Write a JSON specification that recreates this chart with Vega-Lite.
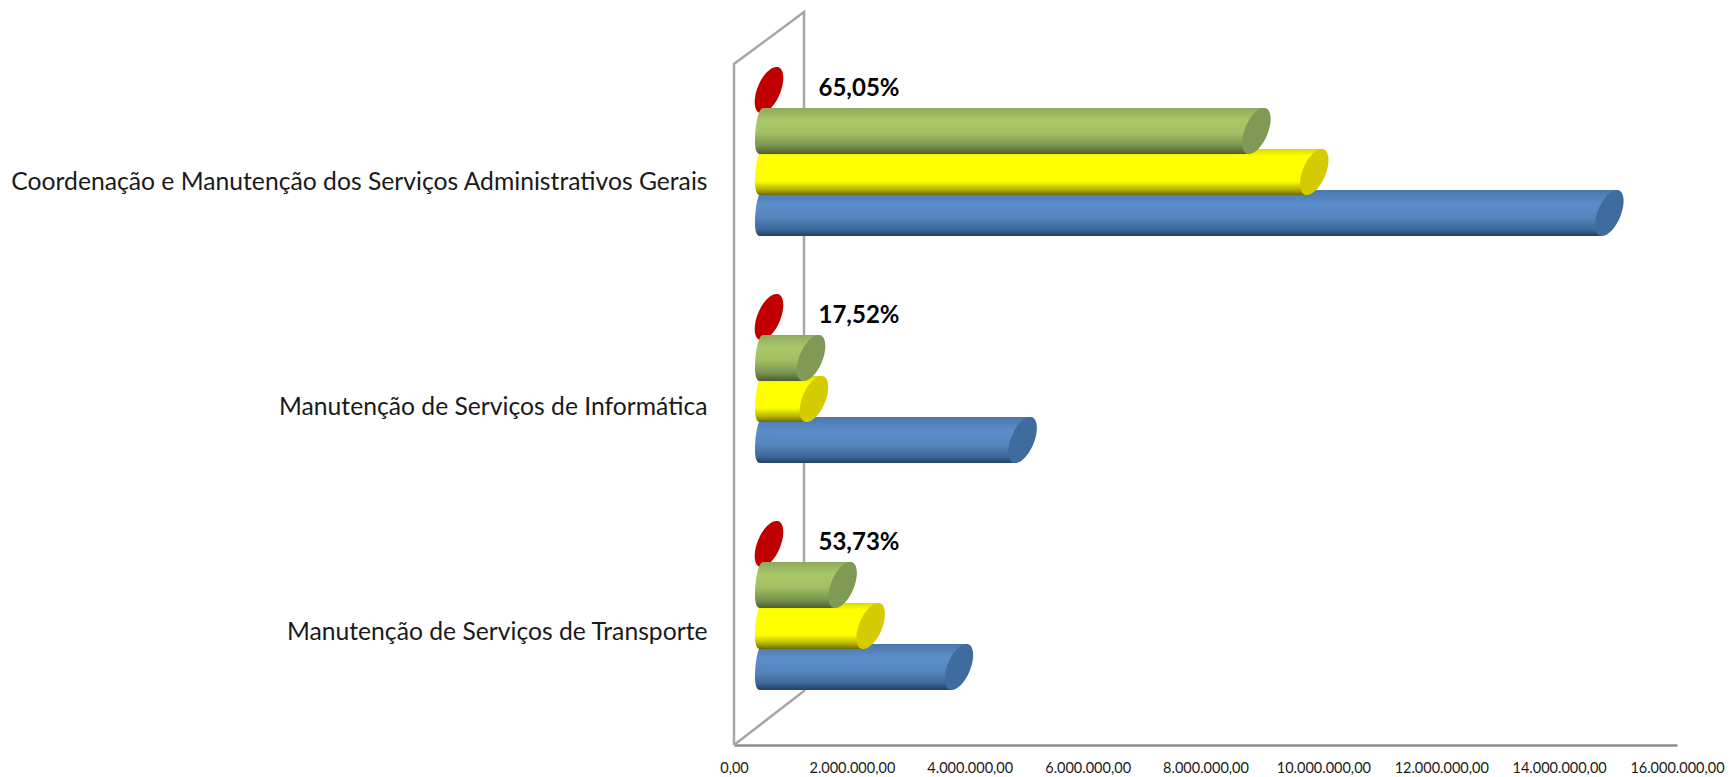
{
"$schema":"https://vega.github.io/schema/vega-lite/v6.json",
"autosize":{"type":"none"},
"padding":{"left":734,"top":68,"right":54,"bottom":32},
"width":943,"height":677,
"background":"white",
"config":{"view":{"stroke":null},"locale":{"number":{"decimal":",","thousands":".","grouping":[3],"currency":["R$ ",""]}}},
"datasets":{
"valores":[
{"cat":"Coordenação e Manutenção dos Serviços Administrativos Gerais","serie":"A","valor":14258000},
{"cat":"Coordenação e Manutenção dos Serviços Administrativos Gerais","serie":"B","valor":9251000},
{"cat":"Coordenação e Manutenção dos Serviços Administrativos Gerais","serie":"C","valor":8269000},
{"cat":"Coordenação e Manutenção dos Serviços Administrativos Gerais","serie":"D","valor":0,"pct":"65,05%"},
{"cat":"Manutenção de Serviços de Informática","serie":"A","valor":4303000},
{"cat":"Manutenção de Serviços de Informática","serie":"B","valor":763000},
{"cat":"Manutenção de Serviços de Informática","serie":"C","valor":714000},
{"cat":"Manutenção de Serviços de Informática","serie":"D","valor":0,"pct":"17,52%"},
{"cat":"Manutenção de Serviços de Transporte","serie":"A","valor":3222000},
{"cat":"Manutenção de Serviços de Transporte","serie":"B","valor":1725000},
{"cat":"Manutenção de Serviços de Transporte","serie":"C","valor":1249000},
{"cat":"Manutenção de Serviços de Transporte","serie":"D","valor":0,"pct":"53,73%"}
],
"parede":[
{"ordem":1,"vx":0,"vy":0},
{"ordem":2,"vx":0,"vy":681},
{"ordem":3,"vx":1188000,"vy":733},
{"ordem":4,"vx":1188000,"vy":54},
{"ordem":5,"vx":0,"vy":0}
]
},
"resolve":{"scale":{"y":"independent"}},
"layer":[
{"data":{"name":"parede"},
 "mark":{"type":"line","stroke":"#A6A6A6","strokeWidth":2.5,"clip":false},
 "encoding":{
  "x":{"field":"vx","type":"quantitative","title":null,"scale":{"domain":[0,16000000],"nice":false},
   "axis":{"values":[0,2000000,4000000,6000000,8000000,10000000,12000000,14000000,16000000],"format":",.2f","grid":false,"ticks":false,"domainColor":"#8C8C8C","domainWidth":2.5,"labelFont":"Lato","labelFontSize":14.5,"labelColor":"#1a1a1a","labelPadding":16,"labelOverlap":false,"labelBound":false,"labelFlush":false,"title":null}},
  "y":{"field":"vy","type":"quantitative","axis":null,"scale":{"domain":[0,677],"nice":false,"zero":false}},
  "order":{"field":"ordem","type":"quantitative"}
 }},
{"data":{"name":"valores"},
 "transform":[{"filter":"datum.serie=='D'"}],
 "mark":{"type":"tick","opacity":0},
 "encoding":{
  "y":{"field":"cat","type":"nominal","title":null,"sort":null,
   "scale":{"domain":["Coordenação e Manutenção dos Serviços Administrativos Gerais","Manutenção de Serviços de Informática","Manutenção de Serviços de Transporte"],"range":[3,677]},
   "axis":{"domain":false,"ticks":false,"grid":false,"labelFont":"Lato","labelFontSize":24.7,"labelColor":"#1a1a1a","labelPadding":27,"labelLimit":900,"title":null}}
 }},
{"data":{"name":"valores"},
 "encoding":{
  "x":{"field":"valor","type":"quantitative","title":null},
  "y":{"field":"cat","type":"nominal","title":null,"sort":null,"axis":null,
   "scale":{"domain":["Coordenação e Manutenção dos Serviços Administrativos Gerais","Manutenção de Serviços de Informática","Manutenção de Serviços de Transporte"],"range":[-9.5,671.5],"paddingInner":0,"paddingOuter":0}}
 },
 "layer":[
 {"transform":[{"filter":"datum.serie=='D'"}],
  "mark":{"type":"point","filled":true,"opacity":1,"fill":"#C00000","size":2116,"xOffset":35,"yOffset":-82,
   "shape":"M0.418,-0.985A1.07,0.5,-67,1,0,-0.418,0.985A1.07,0.5,-67,1,0,0.418,-0.985Z"}},

 {"transform":[{"filter":"datum.serie=='A'"}],
  "mark":{"type":"point","filled":true,"opacity":1,"size":2116,"yOffset":41,"xOffset":35,
   "shape":"M0.5,-1L-0.26,-1C-0.45,-1,-0.61,-0.3,-0.61,0.45C-0.61,0.75,-0.55,1,-0.4,1L0.5,1Z",
   "fill":{"gradient":"linear","x1":0,"y1":0,"x2":0,"y2":1,"stops":[{"offset":0,"color":"#4A78AD"},{"offset":0.3,"color":"#5B8DCA"},{"offset":0.6,"color":"#5585BD"},{"offset":0.85,"color":"#3E6A9A"},{"offset":1,"color":"#23405F"}]}},
  "encoding":{"x":{"datum":0}}},
 {"transform":[{"filter":"datum.serie=='A'"}],
  "mark":{"type":"bar","size":46,"yOffset":41,"xOffset":27,"x2Offset":35,
   "fill":{"gradient":"linear","x1":0,"y1":0,"x2":0,"y2":1,"stops":[{"offset":0,"color":"#4A78AD"},{"offset":0.3,"color":"#5B8DCA"},{"offset":0.6,"color":"#5585BD"},{"offset":0.85,"color":"#3E6A9A"},{"offset":1,"color":"#23405F"}]}},
  "encoding":{"x2":{"datum":0}}},
 {"transform":[{"filter":"datum.serie=='A'"}],
  "mark":{"type":"bar","size":23,"yOffset":29.5,"xOffset":43,"x2Offset":40,
   "fill":{"gradient":"linear","x1":0,"y1":0,"x2":0,"y2":1,"stops":[{"offset":0,"color":"#4A78AD"},{"offset":0.6,"color":"#5B8DCA"},{"offset":1,"color":"#5889C4"}]}},
  "encoding":{"x2":{"datum":0}}},
 {"transform":[{"filter":"datum.serie=='A'"}],
  "mark":{"type":"point","filled":true,"opacity":1,"fill":"#3F6C9E","size":2116,"yOffset":41,"xOffset":35,
   "shape":"M0.418,-0.985A1.07,0.5,-67,1,0,-0.418,0.985A1.07,0.5,-67,1,0,0.418,-0.985Z"}},

 {"transform":[{"filter":"datum.serie=='B'"}],
  "mark":{"type":"point","filled":true,"opacity":1,"size":2116,"yOffset":0,"xOffset":35,
   "shape":"M0.5,-1L-0.26,-1C-0.45,-1,-0.61,-0.3,-0.61,0.45C-0.61,0.75,-0.55,1,-0.4,1L0.5,1Z",
   "fill":{"gradient":"linear","x1":0,"y1":0,"x2":0,"y2":1,"stops":[{"offset":0,"color":"#D9D900"},{"offset":0.15,"color":"#FFFF00"},{"offset":0.7,"color":"#FFFF00"},{"offset":0.87,"color":"#B8B800"},{"offset":1,"color":"#6E6A00"}]}},
  "encoding":{"x":{"datum":0}}},
 {"transform":[{"filter":"datum.serie=='B'"}],
  "mark":{"type":"bar","size":46,"yOffset":0,"xOffset":27,"x2Offset":35,
   "fill":{"gradient":"linear","x1":0,"y1":0,"x2":0,"y2":1,"stops":[{"offset":0,"color":"#D9D900"},{"offset":0.15,"color":"#FFFF00"},{"offset":0.7,"color":"#FFFF00"},{"offset":0.87,"color":"#B8B800"},{"offset":1,"color":"#6E6A00"}]}},
  "encoding":{"x2":{"datum":0}}},
 {"transform":[{"filter":"datum.serie=='B'"}],
  "mark":{"type":"bar","size":23,"yOffset":-11.5,"xOffset":43,"x2Offset":40,
   "fill":{"gradient":"linear","x1":0,"y1":0,"x2":0,"y2":1,"stops":[{"offset":0,"color":"#D9D900"},{"offset":0.3,"color":"#FFFF00"},{"offset":1,"color":"#FFFF00"}]}},
  "encoding":{"x2":{"datum":0}}},
 {"transform":[{"filter":"datum.serie=='B'"}],
  "mark":{"type":"point","filled":true,"opacity":1,"fill":"#D4CC00","size":2116,"yOffset":0,"xOffset":35,
   "shape":"M0.418,-0.985A1.07,0.5,-67,1,0,-0.418,0.985A1.07,0.5,-67,1,0,0.418,-0.985Z"}},

 {"transform":[{"filter":"datum.serie=='C'"}],
  "mark":{"type":"point","filled":true,"opacity":1,"size":2116,"yOffset":-41,"xOffset":35,
   "shape":"M0.5,-1L-0.26,-1C-0.45,-1,-0.61,-0.3,-0.61,0.45C-0.61,0.75,-0.55,1,-0.4,1L0.5,1Z",
   "fill":{"gradient":"linear","x1":0,"y1":0,"x2":0,"y2":1,"stops":[{"offset":0,"color":"#8FAA5E"},{"offset":0.28,"color":"#A9C968"},{"offset":0.55,"color":"#A0C062"},{"offset":0.82,"color":"#7A9450"},{"offset":1,"color":"#4D5C30"}]}},
  "encoding":{"x":{"datum":0}}},
 {"transform":[{"filter":"datum.serie=='C'"}],
  "mark":{"type":"bar","size":46,"yOffset":-41,"xOffset":27,"x2Offset":35,
   "fill":{"gradient":"linear","x1":0,"y1":0,"x2":0,"y2":1,"stops":[{"offset":0,"color":"#8FAA5E"},{"offset":0.28,"color":"#A9C968"},{"offset":0.55,"color":"#A0C062"},{"offset":0.82,"color":"#7A9450"},{"offset":1,"color":"#4D5C30"}]}},
  "encoding":{"x2":{"datum":0}}},
 {"transform":[{"filter":"datum.serie=='C'"}],
  "mark":{"type":"bar","size":23,"yOffset":-52.5,"xOffset":43,"x2Offset":40,
   "fill":{"gradient":"linear","x1":0,"y1":0,"x2":0,"y2":1,"stops":[{"offset":0,"color":"#8FAA5E"},{"offset":0.56,"color":"#A9C968"},{"offset":1,"color":"#A2C263"}]}},
  "encoding":{"x2":{"datum":0}}},
 {"transform":[{"filter":"datum.serie=='C'"}],
  "mark":{"type":"point","filled":true,"opacity":1,"fill":"#7F9A55","size":2116,"yOffset":-41,"xOffset":35,
   "shape":"M0.418,-0.985A1.07,0.5,-67,1,0,-0.418,0.985A1.07,0.5,-67,1,0,0.418,-0.985Z"}},

 {"transform":[{"filter":"datum.serie=='D'"}],
  "mark":{"type":"text","font":"Lato","fontWeight":"bold","fontSize":24,"color":"#000000","align":"center","baseline":"middle","xOffset":125,"yOffset":-83},
  "encoding":{"text":{"field":"pct","type":"nominal"}}}
 ]}
]
}
